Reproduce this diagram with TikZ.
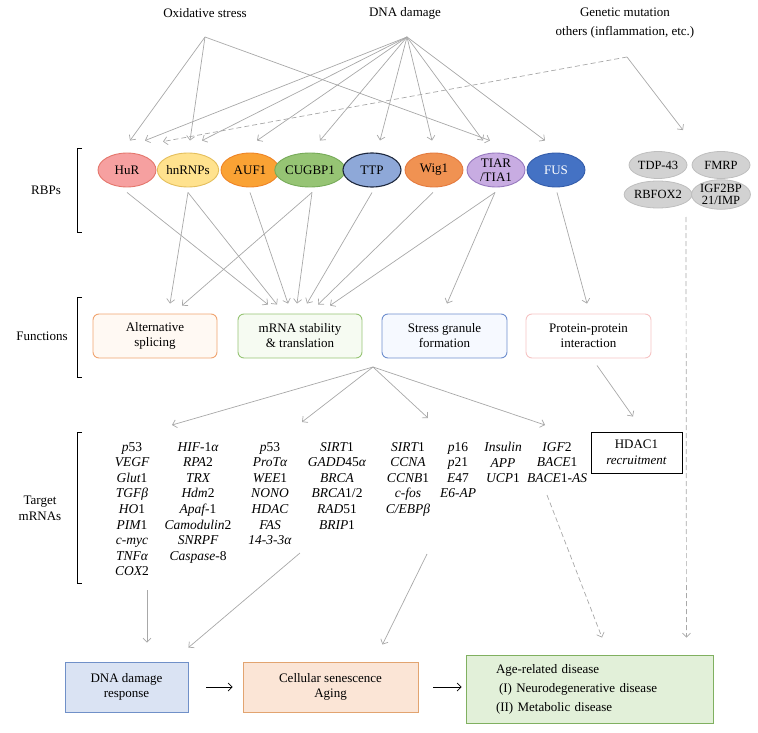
\documentclass[tikz,border=0pt]{standalone}
\usepackage{fontspec}
\setmainfont{Liberation Serif}
\usetikzlibrary{arrows.meta,calc,shapes.geometric}
\definecolor{arr}{RGB}{168,168,168}
\definecolor{hurF}{RGB}{246,160,160}\definecolor{hurD}{RGB}{228,118,108}
\definecolor{hnF}{RGB}{255,226,142}\definecolor{hnD}{RGB}{228,190,92}
\definecolor{aufF}{RGB}{250,162,52}\definecolor{aufD}{RGB}{238,132,38}
\definecolor{cugF}{RGB}{150,196,116}\definecolor{cugD}{RGB}{118,170,88}
\definecolor{ttpF}{RGB}{142,168,216}\definecolor{ttpD}{RGB}{30,40,62}
\definecolor{wigF}{RGB}{240,146,82}\definecolor{wigD}{RGB}{228,122,62}
\definecolor{tiaF}{RGB}{200,172,226}\definecolor{tiaD}{RGB}{150,120,190}
\definecolor{fusF}{RGB}{68,114,196}\definecolor{fusD}{RGB}{52,92,170}
\definecolor{gfl}{RGB}{210,210,210}\definecolor{gbd}{RGB}{190,190,190}
\definecolor{altD}{RGB}{240,164,112}\definecolor{altF}{RGB}{255,249,243}
\definecolor{mrnD}{RGB}{150,196,116}\definecolor{mrnF}{RGB}{246,251,242}
\definecolor{sgD}{RGB}{110,142,206}\definecolor{sgF}{RGB}{246,249,255}
\definecolor{ppiD}{RGB}{246,196,196}
\definecolor{dnaF}{RGB}{218,227,243}\definecolor{dnaD}{RGB}{112,144,200}
\definecolor{celF}{RGB}{251,229,214}\definecolor{celD}{RGB}{226,164,112}
\definecolor{ageF}{RGB}{226,240,217}\definecolor{ageD}{RGB}{128,176,96}
\begin{document}
\begin{tikzpicture}[x=1pt,y=-1pt,
  every node/.style={font=\fontsize{13}{15}\selectfont},
  rbp/.style={ellipse, draw, line width=0.9pt, minimum width=58pt, minimum height=34pt, inner sep=0pt, align=center},
  grbp/.style={ellipse, draw=gbd, fill=gfl, line width=0.8pt, minimum width=58pt, minimum height=27pt, inner sep=0pt, align=center, font=\fontsize{12.5}{12.5}\selectfont},
  fbox/.style={rounded corners=6pt, draw, line width=0.9pt, minimum width=124pt, minimum height=44pt, inner sep=0pt, align=center},
  bbox/.style={draw, line width=0.9pt, inner sep=0pt, align=center},
  genes/.style={anchor=north, inner sep=0pt, align=center, font=\fontsize{13.5}{15.6}\selectfont\itshape},
  garr/.style={draw=arr, line width=0.7pt, -{Straight Barb[length=4pt,width=8pt]}},
  gdash/.style={garr, dash pattern=on 5pt off 3pt},
  karr/.style={draw=black, line width=0.7pt, -{Straight Barb[length=4pt,width=8pt]}},
  brk/.style={draw=black, line width=0.9pt}
]
\useasboundingbox (0,0) rectangle (758,733);

% sources
\node (oxl) at (205,13) {Oxidative stress};
\node (dnal) at (405,13) {DNA damage};
\node[align=center, font=\fontsize{13}{19}\selectfont] (genl) at (625,23) {Genetic mutation\\others (inflammation, etc.)};
\coordinate (ox) at (205,37);
\coordinate (dna) at (407,37);
\coordinate (gen) at (627,57);

% RBPs
\node[rbp, draw=hurD, fill=hurF] (HuR) at (127,170) {HuR};
\node[rbp, draw=hnD, fill=hnF] (hn) at (188,170) {hnRNPs};
\node[rbp, draw=aufD, fill=aufF] (AUF) at (250,170) {AUF1};
\node[rbp, draw=cugD, fill=cugF] (CUG) at (310,170) {CUGBP1};
\node[rbp, draw=ttpD, fill=ttpF, line width=1.1pt] (TTP) at (372,170) {TTP};
\node[rbp, draw=wigD, fill=wigF] (Wig) at (434,170) {Wig1};
\node[rbp, draw=tiaD, fill=tiaF, font=\fontsize{13}{14}\selectfont] (TIA) at (496,170) {TIAR\\/TIA1};
\node[rbp, draw=fusD, fill=fusF, text=white] (FUS) at (556,170) {FUS};

\node[grbp] (TDP) at (658,165) {TDP-43};
\node[grbp] (FMRP) at (721,165) {FMRP};
\node[grbp] (RBF) at (658,194.5) {RBFOX2};
\node[grbp] (IGF) at (721,194.5) {IGF2BP\\21/IMP};

% source arrows
\draw[garr] (ox) -- ($(HuR.north)+(3,-12)$);
\draw[garr] (ox) -- ($(hn.north)+(2,-12)$);
\draw[garr] (ox) -- ($(TIA.north)+(-6,-12)$);
\draw[garr] (dna) -- ($(HuR.north)+(18,-12)$);
\draw[garr] (dna) -- ($(hn.north)+(14,-12)$);
\draw[garr] (dna) -- ($(AUF.north)+(7,-12)$);
\draw[garr] (dna) -- ($(CUG.north)+(10,-12)$);
\draw[garr] (dna) -- ($(TTP.north)+(8,-12)$);
\draw[garr] (dna) -- ($(Wig.north)+(-2,-12)$);
\draw[garr] (dna) -- ($(TIA.north)+(-13,-12)$);
\draw[garr] (dna) -- ($(FUS.north)+(-11,-12)$);
\draw[gdash] (gen) -- ($(HuR.north)+(36,-11)$);
\draw[garr] (gen) -- ($(TDP.north)+(25,-21)$);

% functions
\node[fbox, draw=altD, fill=altF] (alt) at (155,336) {Alternative\\splicing};
\node[fbox, draw=mrnD, fill=mrnF] (mrna) at (300,336) {mRNA stability\\\& translation};
\node[fbox, draw=sgD, fill=sgF, minimum width=125pt] (sg) at (444.5,336) {Stress granule\\formation};
\node[fbox, draw=ppiD, fill=white, minimum width=125pt] (ppi) at (588.5,336) {Protein-protein\\interaction};

% RBP -> functions
\draw[garr] ($(HuR.south)+(0,5)$) -- ($(mrna.north)+(-32,-9)$);
\draw[garr] ($(hn.south)+(0,5)$) -- ($(alt.north)+(15,-10)$);
\draw[garr] ($(hn.south)+(0,5)$) -- ($(mrna.north)+(-23,-9)$);
\draw[garr] ($(AUF.south)+(0,5)$) -- ($(mrna.north)+(-12,-10)$);
\draw[garr] ($(CUG.south)+(2,5)$) -- ($(alt.north)+(27,-8)$);
\draw[garr] ($(CUG.south)+(2,5)$) -- ($(mrna.north)+(-3,-10)$);
\draw[garr] ($(TTP.south)+(0,5)$) -- ($(mrna.north)+(7,-10)$);
\draw[garr] ($(Wig.south)+(-1,5)$) -- ($(mrna.north)+(18,-9)$);
\draw[garr] ($(TIA.south)+(-1,5)$) -- ($(mrna.north)+(30,-8)$);
\draw[garr] ($(TIA.south)+(-1,5)$) -- ($(sg.north)+(2.5,-10)$);
\draw[garr] ($(FUS.south)+(1,5)$) -- ($(ppi.north)+(-1.5,-10)$);

% target genes
\node[genes] (c1) at (132,442) {p\upshape 53\\VEGF\\Glut\upshape 1\\TGFβ\\HO\upshape 1\\PIM\upshape 1\\c-myc\\TNFα\\COX\upshape 2};
\node[genes] (c2) at (198,442) {HIF\upshape -1\itshape α\\RPA\upshape 2\\TRX\\Hdm\upshape 2\\Apaf\upshape -1\\Camodulin\upshape 2\\SNRPF\\Caspase\upshape -8};
\node[genes] (c3) at (270,442) {p\upshape 53\\ProTα\\WEE\upshape 1\\NONO\\HDAC\\FAS\\14-3-3α};
\node[genes] (c4) at (337,442) {SIRT\upshape 1\\GADD\upshape 45\itshape α\\BRCA\\BRCA\upshape 1/2\\RAD\upshape 51\\BRIP\upshape 1};
\node[genes] (c5) at (408,442) {SIRT\upshape 1\\CCNA\\CCNB\upshape 1\\c-fos\\C/EBPβ};
\node[genes] (c6) at (458,442) {p\upshape 16\\p\upshape 21\\E\upshape 47\\E6-AP};
\node[genes] (c7) at (503,442) {Insulin\\APP\\UCP\upshape 1};
\node[genes] (c8) at (557,442) {IGF\upshape 2\\BACE\upshape 1\\BACE\upshape 1-\itshape AS};
\node[bbox, minimum width=91pt, minimum height=41pt, font=\fontsize{13}{15.6}\selectfont] (hdac) at (636.5,452.5) {HDAC1\\\textit{recruitment}};

% functions -> targets
\coordinate (hub) at (373,367);
\coordinate (t1) at (172,425);
\coordinate (t2) at (302,422);
\coordinate (t3) at (428,418);
\coordinate (t4) at (545,425);
\draw[garr] (hub) -- (t1);
\draw[garr] (hub) -- (t2);
\draw[garr] (hub) -- (t3);
\draw[garr] (hub) -- (t4);
\draw[garr] ($(ppi.south)+(8.5,7)$) -- ($(hdac.north)+(-3.5,-15)$);

% brackets and labels
\draw[brk] (82,148) -- (77,148) -- (77,232) -- (82,232);
\draw[brk] (82,297) -- (77,297) -- (77,377) -- (82,377);
\draw[brk] (82,432) -- (77,432) -- (77,583) -- (82,583);
\node (lr) at (46,190) {RBPs};
\node (lf) at (42,336) {Functions};
\node[align=center, font=\fontsize{13}{16}\selectfont] (lt) at (40,508) {Target\\mRNAs};

% bottom boxes
\node[bbox, draw=dnaD, fill=dnaF, minimum width=123pt, minimum height=50pt] (dnar) at (126.5,687) {DNA damage\\response};
\node[bbox, draw=celD, fill=celF, minimum width=175pt, minimum height=50pt] (cel) at (330.5,687) {Cellular senescence\\Aging};
\node[bbox, draw=ageD, fill=ageF, minimum width=247pt, minimum height=68pt, text width=187pt, inner xsep=30pt, align=left, font=\fontsize{13}{19}\selectfont] (age) at (589.5,689) {Age-related disease\\\hspace*{3pt}(I) Neurodegenerative disease\\(II) Metabolic disease};

\coordinate (s1) at (147,590);
\coordinate (s2) at (300,553);
\coordinate (s3) at (427,554);
\coordinate (s4) at (547,495);
\coordinate (s5) at (686,217);
\draw[garr] (s1) -- ($(dnar.north)+(20.5,-19)$);
\draw[garr] (s2) -- ($(dnar.north east)+(0,-14)$);
\draw[garr] (s3) -- ($(cel.north east)+(-36,-17)$);
\draw[gdash] (s4) -- ($(age.north)+(12.5,-17)$);
\draw[gdash] (s5) -- ($(age.north east)+(-27,-17)$);

\draw[karr, shorten <=18pt, shorten >=10pt] (dnar.east) -- (cel.west);
\draw[karr, shorten <=15pt, shorten >=4pt] (cel.east) -- (cel.east -| age.west);
\end{tikzpicture}
\end{document}
